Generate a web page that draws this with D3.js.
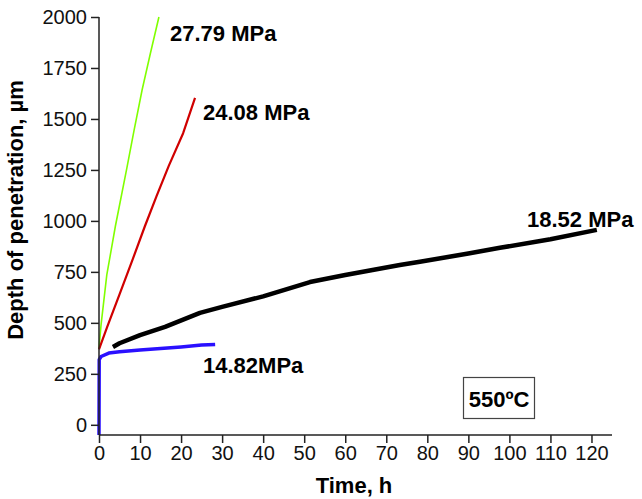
<!DOCTYPE html>
<html>
<head>
<meta charset="utf-8">
<script src="https://cdn.jsdelivr.net/npm/d3@7"></script>
<style>
  body { margin: 0; background: #fff; }
  svg { font-family: "Liberation Sans", Arial, sans-serif; }
</style>
</head>
<body>
<svg width="642" height="499"></svg>
<script>
// depth of penetration (µm) vs time (h)
const s2779 = [[0, 375], [0.5, 490], [1.9, 735], [4.0, 975], [6.7, 1250], [8.6, 1450], [10.5, 1642], [12.5, 1820], [14.6, 2000]];
const s2408 = [[0, 370], [2, 480], [5, 640], [8, 800], [11.2, 975], [14, 1120], [17, 1270], [20.5, 1430], [23.4, 1603]];
const s1852 = [[3.4, 382], [5, 400], [10, 440], [16.1, 480], [24.6, 549], [30, 578], [40, 630], [51.4, 700], [60, 735],
  [73.3, 784], [78.2, 800], [90, 840], [97.7, 868], [110, 910], [121.3, 956]];
const s1482 = [[0, -50], [0.05, 320], [0.5, 335], [2.4, 352], [5, 358], [10, 367], [15, 374], [20, 382], [25, 391], [28.3, 394]];

const series = [
  { name: "27.79 MPa", data: s2779, color: "#80ff00", width: 1.6 },
  { name: "24.08 MPa", data: s2408, color: "#d00000", width: 2.2 },
  { name: "18.52 MPa", data: s1852, color: "#000000", width: 4.5 },
  { name: "14.82MPa", data: s1482, color: "#2a10ff", width: 3.5 }
];

const xMajor = d3.range(0, 121, 10);
const xMinor = d3.range(5, 126, 10);
const yMajor = d3.range(0, 2001, 250);
const yMinor = d3.range(125, 2000, 250);

const svg = d3.select("svg");
const x = d3.scaleLinear().domain([0, 125]).range([99, 612]);
const y = d3.scaleLinear().domain([-50, 2000]).range([435, 17]);

const line = d3.line().x(d => x(d[0])).y(d => y(d[1]));

svg.append("g")
  .selectAll("path")
  .data(series)
  .join("path")
  .attr("fill", "none")
  .attr("stroke", d => d.color)
  .attr("stroke-width", d => d.width)
  .attr("stroke-linejoin", "round")
  .attr("d", d => line(d.data));

// axes
const xAxis = svg.append("g").attr("transform", "translate(0,435)");
xAxis.call(d3.axisBottom(x).tickValues(xMinor).tickSize(4).tickFormat(""));
xAxis.call(d3.axisBottom(x).tickValues(xMajor).tickSize(8).tickPadding(3).tickFormat(d3.format("d")));
xAxis.selectAll(".domain").attr("d", "M99,0H612");

const yAxis = svg.append("g").attr("transform", "translate(99,0)");
yAxis.call(d3.axisLeft(y).tickValues(yMinor).tickSize(4).tickFormat(""));
yAxis.call(d3.axisLeft(y).tickValues(yMajor).tickSize(8).tickPadding(4).tickFormat(d3.format("d")));
yAxis.selectAll(".domain").attr("d", "M0,17V435");

svg.selectAll(".domain, .tick line").attr("stroke", "#222").attr("stroke-width", 1.5);
svg.selectAll(".tick text").attr("font-size", 20).attr("fill", "#111");

// axis titles
svg.append("text")
  .attr("x", 354).attr("y", 493)
  .attr("text-anchor", "middle")
  .attr("font-weight", "bold").attr("font-size", 22)
  .text("Time, h");

svg.append("text")
  .attr("transform", "translate(23,210) rotate(-90)")
  .attr("text-anchor", "middle")
  .attr("font-weight", "bold").attr("font-size", 22)
  .text("Depth of penetration, µm");

// series labels
const labels = [
  { text: "27.79 MPa", x: 170, y: 41 },
  { text: "24.08 MPa", x: 203, y: 120 },
  { text: "18.52 MPa", x: 527, y: 227 },
  { text: "14.82MPa", x: 203, y: 373 }
];
svg.append("g")
  .selectAll("text")
  .data(labels)
  .join("text")
  .attr("x", d => d.x).attr("y", d => d.y)
  .attr("font-weight", "bold").attr("font-size", 22)
  .text(d => d.text);

// temperature box
svg.append("rect")
  .attr("x", 463.5).attr("y", 377.5).attr("width", 71).attr("height", 41)
  .attr("fill", "#fff").attr("stroke", "#444").attr("stroke-width", 1.2);
svg.append("text")
  .attr("x", 499).attr("y", 407)
  .attr("text-anchor", "middle")
  .attr("font-weight", "bold").attr("font-size", 22)
  .text("550ºC");
</script>
</body>
</html>
